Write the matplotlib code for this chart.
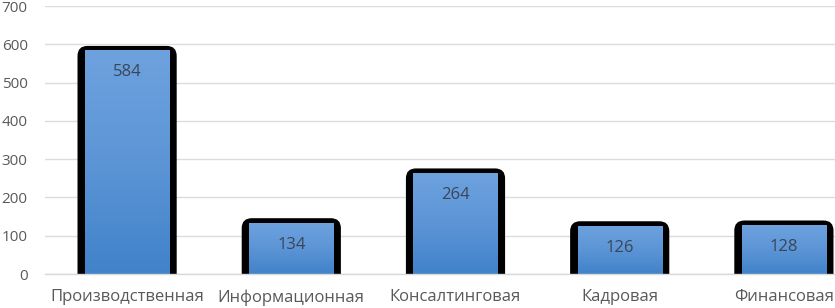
import matplotlib
matplotlib.use("Agg")
import matplotlib.pyplot as plt
import numpy as np
from matplotlib.patches import FancyBboxPatch
from matplotlib.colors import LinearSegmentedColormap

categories = ["Производственная", "Информационная", "Консалтинговая", "Кадровая", "Финансовая"]
values = [584, 134, 264, 126, 128]
yticks = [0, 100, 200, 300, 400, 500, 600, 700]

plt.rcParams['font.family'] = ['Open Sans', 'DejaVu Sans']

W, H = 835, 308
fig = plt.figure(figsize=(W / 100, H / 100), dpi=100)
left_px, right_px = 45, 866
bot_px, top_px = 274, 6
ax = fig.add_axes([left_px / W, (H - bot_px) / H, (right_px - left_px) / W, (bot_px - top_px) / H])

x = np.arange(len(categories))
ax.set_xlim(-0.5, len(categories) - 0.5)
ax.set_ylim(0, 700)

# px conversions
px_x = 1.0 / ((right_px - left_px) / len(categories))   # data units per px in x
px_y = 700.0 / (bot_px - top_px)                         # data units per px in y

inner_w = 0.512
outer_w = 0.604
top_border = 4.5 * px_y

grad = np.linspace(0, 1, 256).reshape(-1, 1)
cmap = LinearSegmentedColormap.from_list("g", ["#4182c9", "#5c95d6", "#6ea2df"])

for xi, v in zip(x, values):
    outer = FancyBboxPatch((xi - outer_w / 2, -40), outer_w, v + 40 + top_border,
                           boxstyle="round,pad=0,rounding_size=%f" % (10 * px_x),
                           mutation_aspect=px_y / px_x,
                           facecolor="black", edgecolor="none", zorder=3)
    ax.add_patch(outer)

bars = ax.bar(x, values, width=inner_w, color="#5a94d5", zorder=4, linewidth=0)
for b, v in zip(bars, values):
    im = ax.imshow(grad, extent=[b.get_x(), b.get_x() + b.get_width(), 0, v],
                   origin="lower", cmap=cmap, aspect="auto", zorder=5)
    im.set_clip_path(b)
    ax.text(b.get_x() + b.get_width() / 2, v - 22 * px_y, str(v), ha="center", va="center",
            fontsize=12, color="#3a4656", zorder=6)

ax.set_aspect("auto")
ax.set_xlim(-0.5, len(categories) - 0.5)
ax.set_ylim(0, 700)

ax.set_yticks(yticks)
ax.set_yticklabels([str(t) for t in yticks])
ax.set_xticks(x)
ax.set_xticklabels(categories)
ax.yaxis.grid(True, color="#dcdcdc", linewidth=1.0, zorder=0)
ax.set_axisbelow(True)
for s in ["top", "right", "left"]:
    ax.spines[s].set_visible(False)
ax.spines["bottom"].set_color("#d9d9d9")
ax.spines["bottom"].set_linewidth(1.0)
ax.spines["bottom"].set_zorder(7)
ax.tick_params(axis="both", length=0, colors="#595959")
ax.tick_params(axis="x", labelsize=12, pad=11)
ax.tick_params(axis="y", labelsize=11, pad=12.5)

fig.savefig("out.png", dpi=100)
